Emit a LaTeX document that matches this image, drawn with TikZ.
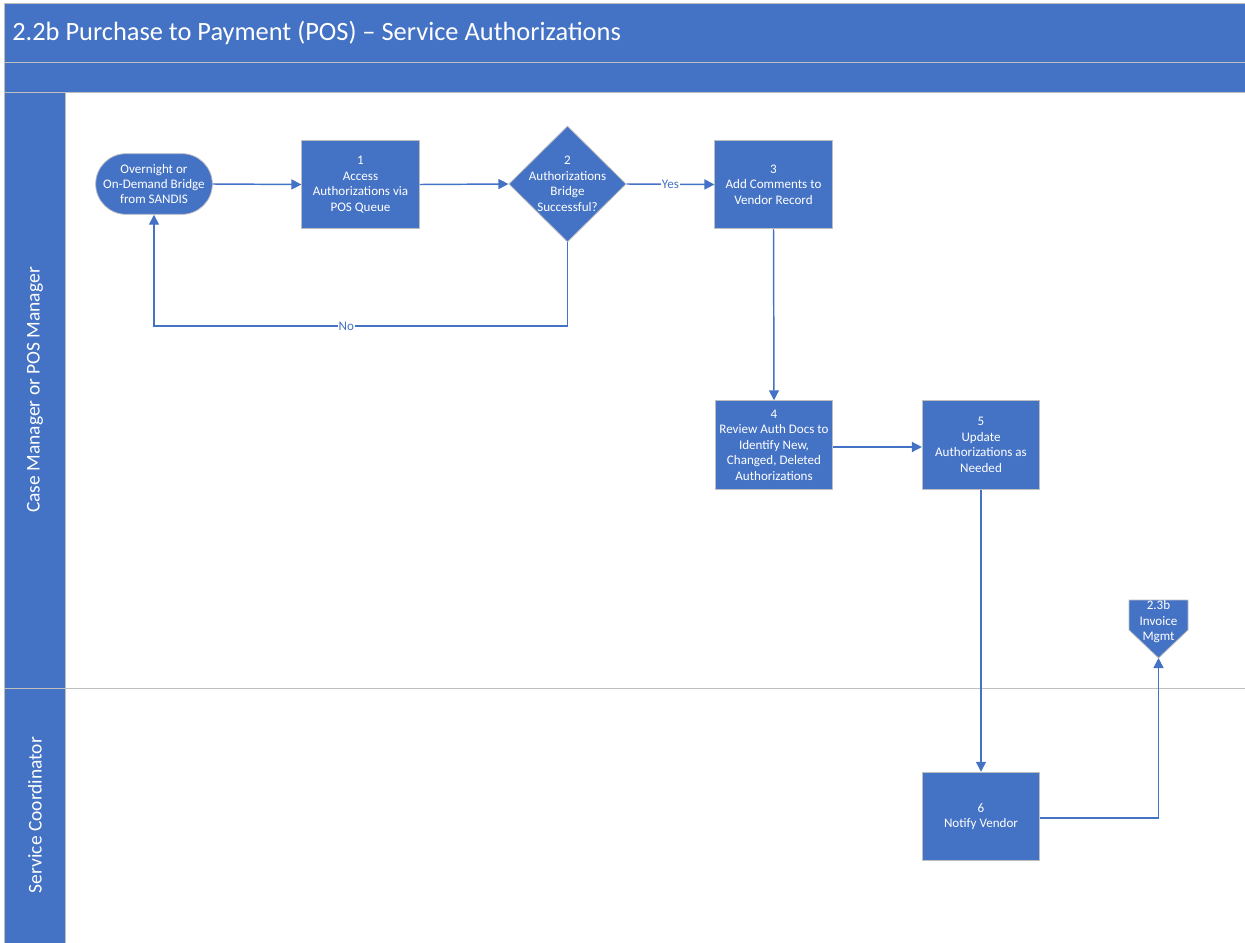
\documentclass[tikz,border=0pt]{standalone}
\usepackage{fontspec}
\setmainfont{Carlito}
\usetikzlibrary{arrows.meta,shapes.geometric,shapes.misc}
\definecolor{flowblue}{HTML}{4472C4}
\definecolor{edgegray}{HTML}{BFBFBF}
\begin{document}
\begin{tikzpicture}[x=0.75pt,y=-0.75pt,
  every node/.style={font=\fontsize{9.8}{11.6}\selectfont},
  band/.style={fill=flowblue,draw=edgegray,line width=0.6pt},
  stepbox/.style={rectangle,fill=flowblue,draw=edgegray,line width=0.6pt,
    text=white,align=center,inner sep=0pt,minimum width=88pt,minimum height=66.5pt},
  startbox/.style={rounded rectangle,fill=flowblue,draw=edgegray,line width=0.6pt,
    text=white,align=center,inner sep=0pt,minimum width=86pt,minimum height=45.5pt},
  decision/.style={diamond,aspect=1,fill=flowblue,draw=edgegray,line width=0.6pt,
    inner sep=0pt,minimum width=88pt,minimum height=87pt},
  plain/.style={text=white,align=center,inner sep=0pt},
  flow/.style={draw=flowblue,line width=1.1pt,-{Triangle[length=7.5pt,width=7.5pt]}},
  flowlabel/.style={fill=white,text=flowblue,inner sep=0.5pt},
  lanetext/.style={text=white,rotate=90,font=\fontsize{14.6}{17}\selectfont}]

\useasboundingbox (0,0) rectangle (1245,942);

% title bars
\draw[band] (4,3) rectangle (1250,62);
\draw[band] (4,62) rectangle (1250,92);
\node[anchor=west,text=white,inner sep=0pt,font=\fontsize{19.8}{23}\selectfont] (title) at (12,33)
  {2.2b Purchase to Payment (POS) -- Service Authorizations};

% swimlanes
\draw[band] (4,92) rectangle (65,688);
\draw[band] (4,688) rectangle (65,950);
\draw[edgegray,line width=0.6pt] (65,688) -- (1250,688);
\node[lanetext] (lane1) at (35,390) {Case Manager or POS Manager};
\node[lanetext] (lane2) at (35,815) {Service Coordinator};

% process steps
\node[startbox] (start) at (154,184) {Overnight or\\On-Demand Bridge\\from SANDIS};
\node[stepbox] (s1) at (360.5,184.5) {1\\Access\\Authorizations via\\POS Queue};
\node[decision] (s2) at (567.5,184) {};
\node[plain] (s2text) at (567.5,184) {2\\Authorizations\\Bridge\\Successful?};
\node[stepbox] (s3) at (773.5,184.5) {3\\Add Comments to\\Vendor Record};
\node[stepbox] (s4) at (774,445) {4\\Review Auth Docs to\\Identify New,\\Changed, Deleted\\Authorizations};
\node[stepbox] (s5) at (981,445) {5\\Update\\Authorizations as\\Needed};
\node[stepbox] (s6) at (981,816.5) {6\\Notify Vendor};

% off-page reference
\draw[fill=flowblue,draw=edgegray,line width=0.6pt]
  (1129,600) -- (1188,600) -- (1188,630) -- (1158.5,658) -- (1129,630) -- cycle;
\coordinate (offtip) at (1158.5,658);
\node[plain] (offtext) at (1158.5,622) {2.3b\\Invoice\\Mgmt};

% loop-back corners
\coordinate (nobend1) at (567.5,326);
\coordinate (nobend2) at (154,326);

% connectors
\draw[flow] (start.east) -- (s1.west);
\draw[flow] (s1.east) -- (s2.west);
\draw[flow] (s2.east) -- node[flowlabel] (yes) {Yes} (s3.west);
\draw[flow] (s2.south) -- (nobend1) -- node[flowlabel,pos=0.535] (no) {No} (nobend2) -- (start.south);
\draw[flow] (s3.south) -- (s4.north);
\draw[flow] (s4.east |- 0,447) -- (s5.west |- 0,447);
\draw[flow] (s5.south) -- (s6.north);
\draw[flow] (s6.east |- 0,818) -| (offtip);
\end{tikzpicture}
\end{document}
